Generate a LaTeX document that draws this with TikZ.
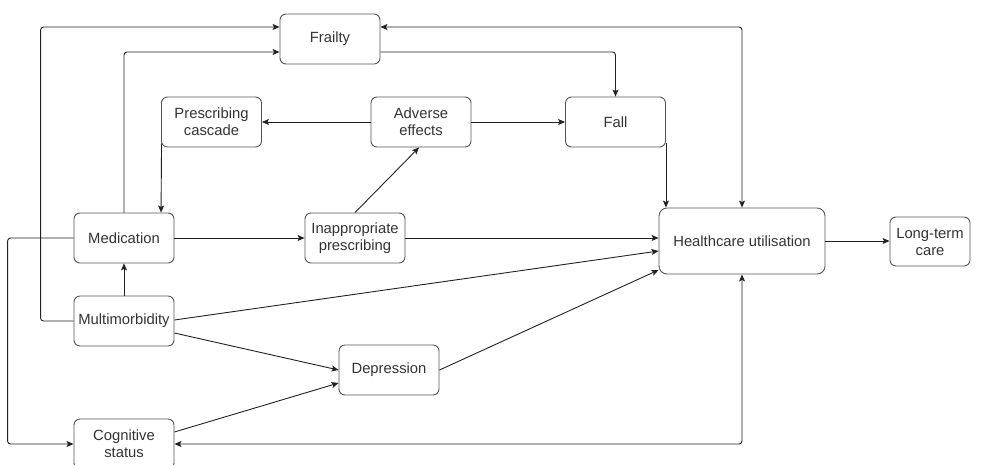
\documentclass[tikz,border=0pt]{standalone}
\usepackage{fontspec}
\setmainfont{Liberation Sans}
\usetikzlibrary{arrows.meta,calc}
\definecolor{txt}{HTML}{333333}
\definecolor{ln}{HTML}{222222}
\definecolor{bd}{HTML}{555555}
\tikzset{
  box/.style={draw=bd, line width=0.9pt, rounded corners=6pt, minimum width=100pt, minimum height=50pt,
    inner sep=1pt, align=center, text=txt, font=\fontsize{14.8}{17}\selectfont},
  arr/.style={draw=ln, line width=0.9pt, rounded corners=3pt, -{Stealth[length=7pt,width=6pt,inset=1.5pt]}},
  arrb/.style={draw=ln, line width=0.9pt, rounded corners=3pt, {Stealth[length=7pt,width=6pt,inset=1.5pt]}-{Stealth[length=7pt,width=6pt,inset=1.5pt]}}
}
\begin{document}
\begin{tikzpicture}[x=1pt,y=-1pt]
\useasboundingbox (0,0) rectangle (981,464);
\clip (0,0) rectangle (981,464);
\node[box] (frailty) at (330,39) {Frailty};
\node[box] (casc) at (211.5,122) {Prescribing\\cascade};
\node[box] (adv) at (421,122) {Adverse\\effects};
\node[box] (fall) at (615.5,122) {Fall};
\node[box] (med) at (124,238) {Medication};
\node[box] (inapp) at (355,238) {Inappropriate\\prescribing};
\node[box, minimum width=166pt, minimum height=66pt, rounded corners=8pt] (hcu) at (742,241) {Healthcare utilisation};
\node[box, minimum width=80pt, minimum height=49pt] (ltc) at (930,241.5) {Long-term\\care};
\node[box] (multi) at (124,321) {Multimorbidity};
\node[box] (dep) at (389,370) {Depression};
\node[box] (cog) at (124,444) {Cognitive\\status};

\draw[arr] (multi.west) -- ++(-33,0) |- ([yshift=12pt]frailty.west);
\draw[arr] (med.north) |- ([yshift=-13pt]frailty.west);
\draw[arr] ([yshift=-13pt]frailty.east) -| (fall.north);
\draw[arrb] ([yshift=12pt]frailty.east) -| (hcu.north);
\draw[arr] (adv.west) -- (casc.east);
\draw[arr] (adv.east) -- (fall.west);
\draw[arr] ([xshift=0.5pt,yshift=4pt]casc.south west) -- (med.north -| casc.south west);
\draw[arr] (inapp.north) -- ([xshift=-2pt]adv.south);
\draw[arr] ([yshift=4pt]fall.south east) -- (hcu.north -| fall.south east);
\draw[arr] (med.east) -- (inapp.west);
\draw[arr] (inapp.east) -- (hcu.west |- inapp.east);
\draw[arr] (multi.north) -- (med.south);
\draw[arr] ([yshift=1pt]multi.east) -- ([yshift=-10pt]hcu.west);
\draw[arr] ([yshift=-12pt]multi.east) -- (dep.west);
\draw[arr] (dep.east) -- ([yshift=-29pt]hcu.west);
\draw[arr] ([yshift=12pt]cog.east) -- ([yshift=-13pt]dep.west);
\draw[arr] (med.west) -- ++(-66,0) |- (cog.west);
\draw[arrb] (hcu.south) |- (cog.east);
\draw[arr] (hcu.east) -- (ltc.west |- hcu.east);
\end{tikzpicture}
\end{document}
